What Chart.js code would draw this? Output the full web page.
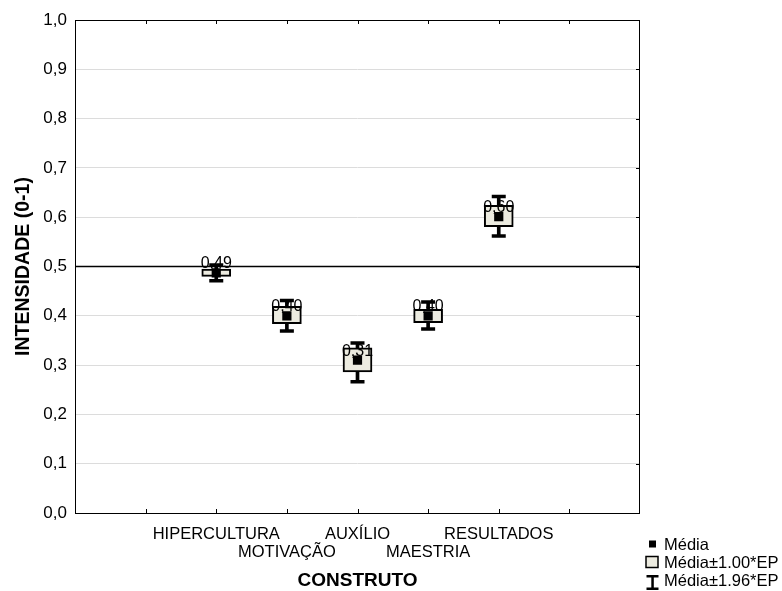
<!DOCTYPE html>
<html>
<head>
<meta charset="utf-8">
<script src="https://cdn.jsdelivr.net/npm/chart.js@4.4.1/dist/chart.umd.min.js"></script>
<style>
    html, body { margin: 0; padding: 0; background: #fff; }
    #wrap { position: relative; width: 782px; height: 591px; }
    .leg-row {
        position: absolute; left: 645px; height: 18px;
        display: flex; align-items: center;
        font: 16.5px Arial, "Liberation Sans", sans-serif; color: #000;
    }
    .leg-row svg { width: 19px; height: 18px; overflow: visible; flex: none; }
</style>
</head>
<body>
<div id="wrap">
    <canvas id="chart" width="782" height="591"></canvas>
    <div class="leg-row" style="top:535px">
        <svg><rect x="4" y="5.5" width="7" height="7" fill="#000"/></svg>Média
    </div>
    <div class="leg-row" style="top:553px">
        <svg><rect x="1" y="3.5" width="12" height="11" fill="#ECEBE0" stroke="#000" stroke-width="1.5"/></svg>Média±1.00*EP
    </div>
    <div class="leg-row" style="top:571px">
        <svg>
            <rect x="1.5" y="4" width="12" height="2.5" fill="#000"/>
            <rect x="6.3" y="4" width="2.5" height="15" fill="#000"/>
            <rect x="1.5" y="16.5" width="12" height="2.5" fill="#000"/>
        </svg>Média±1.96*EP
    </div>
</div>
<script>
// --- Data ---
const categories = ['HIPERCULTURA', 'MOTIVAÇÃO', 'AUXÍLIO', 'MAESTRIA', 'RESULTADOS'];
const means = [0.487, 0.400, 0.310, 0.400, 0.601];
const meanLabels = ['0,49', '0,40', '0,31', '0,40', '0,60'];
const boxLow = [0.480, 0.384, 0.286, 0.386, 0.581];
const boxHigh = [0.495, 0.419, 0.335, 0.413, 0.624];
const whiskerLow = [0.471, 0.369, 0.266, 0.373, 0.562];
const whiskerHigh = [0.503, 0.431, 0.345, 0.428, 0.642];
const refLine = 0.5;

// empty slots either side of the categories, like the original axis
const axisSlots = ['', '', ...categories, '', ''];

Chart.defaults.font.family = 'Arial, "Liberation Sans", sans-serif';
Chart.defaults.color = '#000';

const pts = arr => categories.map((c, i) => ({ x: c, y: arr[i] }));
const ranges = (lo, hi) => categories.map((c, i) => ({ x: c, y: [lo[i], hi[i]] }));

// reference line, frame, inward ticks, value labels
const extras = {
    id: 'extras',
    beforeDatasetsDraw(chart) {
        const { ctx, chartArea: a, scales: { y } } = chart;
        const py = y.getPixelForValue(refLine);
        ctx.save();
        ctx.strokeStyle = '#000';
        ctx.lineWidth = 1.6;
        ctx.beginPath();
        ctx.moveTo(a.left, py);
        ctx.lineTo(a.right, py);
        ctx.stroke();
        ctx.restore();
    },
    afterDatasetsDraw(chart) {
        const { ctx, chartArea: a, scales: { x, y } } = chart;
        ctx.save();
        ctx.strokeStyle = '#000';
        ctx.lineWidth = 1;
        ctx.strokeRect(a.left + 0.5, a.top + 0.5, a.right - a.left - 1, a.bottom - a.top);
        ctx.beginPath();
        for (let i = 1; i < axisSlots.length - 1; i++) {
            const px = Math.round(x.getPixelForValue(i)) + 0.5;
            ctx.moveTo(px, a.bottom); ctx.lineTo(px, a.bottom - 4);
            ctx.moveTo(px, a.top); ctx.lineTo(px, a.top + 4);
        }
        y.ticks.forEach(t => {
            const py = Math.round(y.getPixelForValue(t.value)) + 0.5;
            ctx.moveTo(a.right, py); ctx.lineTo(a.right - 4, py);
        });
        ctx.stroke();

        // value labels over the means
        const meta = chart.getDatasetMeta(4);
        ctx.fillStyle = '#000';
        ctx.font = '16px Arial, "Liberation Sans", sans-serif';
        ctx.textAlign = 'center';
        ctx.textBaseline = 'middle';
        meta.data.forEach((el, i) => {
            ctx.fillText(meanLabels[i], el.x, el.y - 9);
        });
        ctx.restore();
    }
};

new Chart(document.getElementById('chart'), {
    type: 'bar',
    data: {
        labels: axisSlots,
        datasets: [
            {
                // whisker stems
                data: ranges(whiskerLow, whiskerHigh),
                backgroundColor: '#000',
                barThickness: 3,
                grouped: false,
                order: 4
            },
            {
                type: 'line',
                data: pts(whiskerLow),
                showLine: false,
                pointStyle: 'line',
                pointRadius: 7,
                borderWidth: 3.5,
                borderColor: '#000',
                order: 3
            },
            {
                type: 'line',
                data: pts(whiskerHigh),
                showLine: false,
                pointStyle: 'line',
                pointRadius: 7,
                borderWidth: 3.5,
                borderColor: '#000',
                order: 3
            },
            {
                // mean +- 1 SE boxes
                data: ranges(boxLow, boxHigh),
                backgroundColor: '#ECEBE0',
                borderColor: '#000',
                borderWidth: 2,
                borderSkipped: false,
                barThickness: 29,
                grouped: false,
                order: 2
            },
            {
                type: 'line',
                data: pts(means),
                showLine: false,
                pointStyle: 'rect',
                pointRadius: 6.5,
                backgroundColor: '#000',
                borderColor: '#000',
                borderWidth: 0,
                order: 1
            }
        ]
    },
    options: {
        responsive: false,
        animation: false,
        layout: { padding: { top: 20, right: 142, bottom: 0, left: 0 } },
        plugins: { legend: { display: false }, tooltip: { enabled: false } },
        scales: {
            x: {
                type: 'category',
                offset: false,
                grid: { display: false },
                border: { display: false },
                ticks: {
                    autoSkip: false,
                    maxRotation: 0,
                    padding: 4,
                    font: { size: 16.5, lineHeight: 1.1 },
                    callback: (v, i) => {
                        const k = categories.indexOf(axisSlots[i]);
                        if (k < 0) return '';
                        return k % 2 === 0 ? [categories[k], ''] : ['', categories[k]];
                    }
                },
                title: {
                    display: true,
                    text: 'CONSTRUTO',
                    font: { size: 19, weight: 'bold' },
                    padding: { top: 0, bottom: -1 }
                },
                afterFit: s => { s.height = 78; }
            },
            y: {
                min: 0,
                max: 1,
                grid: { color: '#dcdcdc', drawTicks: false },
                border: { display: false },
                ticks: {
                    stepSize: 0.1,
                    padding: 8,
                    font: { size: 17 },
                    callback: v => v.toFixed(1).replace('.', ',')
                },
                title: {
                    display: true,
                    text: 'INTENSIDADE (0-1)',
                    font: { size: 19.5, weight: 'bold' },
                    padding: { top: 12, bottom: 0 }
                },
                afterFit: s => { s.width = 75; }
            }
        }
    },
    plugins: [extras]
});
</script>
</body>
</html>
